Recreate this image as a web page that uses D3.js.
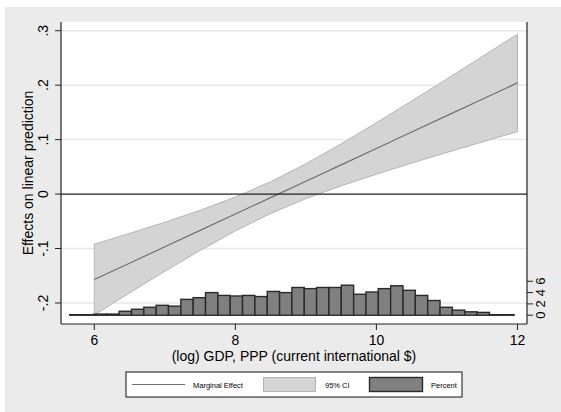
<!DOCTYPE html>
<html>
<head>
<meta charset="utf-8">
<script src="https://cdn.jsdelivr.net/npm/d3@7"></script>
<style>
	body { margin: 0; background: #fff; }
	text { font-family: "Liberation Sans", Arial, sans-serif; fill: #000; }
</style>
</head>
<body>
<div id="my_chart"></div>
<script>
// marginal effect of log GDP, evaluated every half unit
var atGdp = [6, 6.5, 7, 7.5, 8, 8.5, 9, 9.5, 10, 10.5, 11, 11.5, 12];
var effect = [-0.157, -0.1269, -0.0968, -0.0667, -0.0366, -0.0065, 0.0236, 0.0537, 0.0838, 0.1139, 0.144, 0.1741, 0.2042];
var ciUpper = [-0.092, -0.0723, -0.0518, -0.0299, -0.0056, 0.0227, 0.0556, 0.0922, 0.131, 0.1709, 0.2115, 0.2525, 0.2937];
var ciLower = [-0.222, -0.1815, -0.1418, -0.1035, -0.0676, -0.0357, -0.0084, 0.0152, 0.0366, 0.0569, 0.0765, 0.0957, 0.1147];

// histogram of log GDP (percent)
var binStart = 5.652;
var binWidth = 0.175;
var percent = [0.1, 0.1, 0.2, 0.2, 0.7, 1.05, 1.4, 1.75, 1.6, 2.8, 3.1, 4.0, 3.5, 3.4, 3.5, 3.3, 4.2, 4.0,
	4.9, 4.7, 4.9, 4.9, 5.3, 3.7, 4.1, 4.7, 5.2, 4.4, 3.5, 2.6, 1.4, 0.9, 0.6, 0.5, 0.1, 0.1];

var xTicks = [6, 8, 10, 12];
var yTicks = [0.3, 0.2, 0.1, 0, -0.1, -0.2];
var yTickLabels = [".3", ".2", ".1", "0", "-.1", "-.2"];
var pctTicks = [0, 2, 4, 6];
var legendLabels = ["Marginal Effect", "95% CI", "Percent"];

var width = 561, height = 412;
var plot = { left: 61, right: 527, top: 22, bottom: 324 };

var svg = d3.select("#my_chart").append("svg")
	.attr("width", width)
	.attr("height", height);

// outer graph region
svg.append("rect")
	.attr("x", 5).attr("y", 7)
	.attr("width", width - 5).attr("height", height - 7)
	.attr("fill", "#ebebeb");

svg.append("rect")
	.attr("x", plot.left).attr("y", plot.top)
	.attr("width", plot.right - plot.left).attr("height", plot.bottom - plot.top)
	.attr("fill", "#fff");

var x = d3.scaleLinear().domain([5.528, 12.135]).range([plot.left, plot.right]);
var y = d3.scaleLinear().domain([-0.2386, 0.316]).range([plot.bottom, plot.top]);
var yPct = d3.scaleLinear().domain([-1.55, 51.8]).range([plot.bottom, plot.top]);

// grid
svg.append("g")
	.selectAll("line")
	.data(yTicks.filter(d => d !== 0))
	.enter().append("line")
	.attr("x1", plot.left).attr("x2", plot.right)
	.attr("y1", d => y(d)).attr("y2", d => y(d))
	.attr("stroke", "#e8e8e8")
	.attr("stroke-width", 1.5);

var ciData = atGdp.map((g, i) => ({ g: g, lo: ciLower[i], hi: ciUpper[i], me: effect[i] }));

svg.append("path")
	.datum(ciData)
	.attr("d", d3.area().x(d => x(d.g)).y0(d => y(d.lo)).y1(d => y(d.hi)))
	.attr("fill", "#d4d4d4")
	.attr("stroke", "#b4b4b4")
	.attr("stroke-width", 1);

svg.append("path")
	.datum(ciData)
	.attr("d", d3.line().x(d => x(d.g)).y(d => y(d.me)))
	.attr("fill", "none")
	.attr("stroke", "#707070")
	.attr("stroke-width", 1.2);

// yline(0)
svg.append("line")
	.attr("x1", plot.left).attr("x2", plot.right)
	.attr("y1", y(0)).attr("y2", y(0))
	.attr("stroke", "#222")
	.attr("stroke-width", 1.2);

svg.append("g")
	.selectAll("rect")
	.data(percent)
	.enter().append("rect")
	.attr("x", (d, i) => x(binStart + i * binWidth))
	.attr("width", x(binStart + binWidth) - x(binStart))
	.attr("y", d => yPct(d))
	.attr("height", d => yPct(0) - yPct(d))
	.attr("fill", "#808080")
	.attr("stroke", "#2a2a2a")
	.attr("stroke-width", 1.4);

// axes
var axisColor = "#222";
svg.append("line")
	.attr("x1", plot.left).attr("x2", plot.left)
	.attr("y1", plot.top).attr("y2", plot.bottom)
	.attr("stroke", axisColor).attr("stroke-width", 1.2);
svg.append("line")
	.attr("x1", plot.right).attr("x2", plot.right)
	.attr("y1", plot.top).attr("y2", plot.bottom)
	.attr("stroke", axisColor).attr("stroke-width", 1.2);
svg.append("line")
	.attr("x1", plot.left).attr("x2", plot.right)
	.attr("y1", plot.bottom).attr("y2", plot.bottom)
	.attr("stroke", axisColor).attr("stroke-width", 1.2);

var leftAxis = svg.append("g");
leftAxis.selectAll("line")
	.data(yTicks)
	.enter().append("line")
	.attr("x1", plot.left - 6).attr("x2", plot.left)
	.attr("y1", d => y(d)).attr("y2", d => y(d))
	.attr("stroke", axisColor);
leftAxis.selectAll("text")
	.data(yTicks)
	.enter().append("text")
	.attr("transform", d => "translate(" + 48 + "," + y(d) + ") rotate(-90)")
	.attr("text-anchor", "middle")
	.style("font-size", "14px")
	.text((d, i) => yTickLabels[i]);

var bottomAxis = svg.append("g");
bottomAxis.selectAll("line")
	.data(xTicks)
	.enter().append("line")
	.attr("x1", d => x(d)).attr("x2", d => x(d))
	.attr("y1", plot.bottom).attr("y2", plot.bottom + 6)
	.attr("stroke", axisColor);
bottomAxis.selectAll("text")
	.data(xTicks)
	.enter().append("text")
	.attr("x", d => x(d))
	.attr("y", plot.bottom + 21)
	.attr("text-anchor", "middle")
	.style("font-size", "14px")
	.text(d => d);

var rightAxis = svg.append("g");
rightAxis.selectAll("line")
	.data(pctTicks)
	.enter().append("line")
	.attr("x1", plot.right).attr("x2", plot.right + 6)
	.attr("y1", d => yPct(d)).attr("y2", d => yPct(d))
	.attr("stroke", axisColor);
rightAxis.selectAll("text")
	.data(pctTicks)
	.enter().append("text")
	.attr("transform", d => "translate(" + (plot.right + 18) + "," + yPct(d) + ") rotate(-90)")
	.attr("text-anchor", "middle")
	.style("font-size", "13px")
	.text(d => d);

// titles
svg.append("text")
	.attr("transform", "translate(33," + ((plot.top + plot.bottom) / 2) + ") rotate(-90)")
	.attr("text-anchor", "middle")
	.style("font-size", "14px")
	.text("Effects on linear prediction");

svg.append("text")
	.attr("x", (plot.left + plot.right) / 2)
	.attr("y", 361)
	.attr("text-anchor", "middle")
	.style("font-size", "14px")
	.text("(log) GDP, PPP (current international $)");

// legend
var legend = svg.append("g");
legend.append("rect")
	.attr("x", 126).attr("y", 372)
	.attr("width", 336).attr("height", 25)
	.attr("fill", "#fff")
	.attr("stroke", "#111")
	.attr("stroke-width", 1);
legend.append("line")
	.attr("x1", 132).attr("x2", 185)
	.attr("y1", 384.5).attr("y2", 384.5)
	.attr("stroke", "#707070").attr("stroke-width", 1.2);
legend.append("rect")
	.attr("x", 263.5).attr("y", 377.5)
	.attr("width", 52).attr("height", 14)
	.attr("fill", "#d4d4d4").attr("stroke", "#b4b4b4");
legend.append("rect")
	.attr("x", 369.5).attr("y", 377.5)
	.attr("width", 53).attr("height", 14)
	.attr("fill", "#808080").attr("stroke", "#2a2a2a").attr("stroke-width", 1.4);
legend.selectAll("text.lab")
	.data(legendLabels)
	.enter().append("text")
	.attr("class", "lab")
	.attr("x", (d, i) => [193, 325, 431][i])
	.attr("y", 387.5)
	.style("font-size", "7.5px")
	.text(d => d);
</script>
</body>
</html>
